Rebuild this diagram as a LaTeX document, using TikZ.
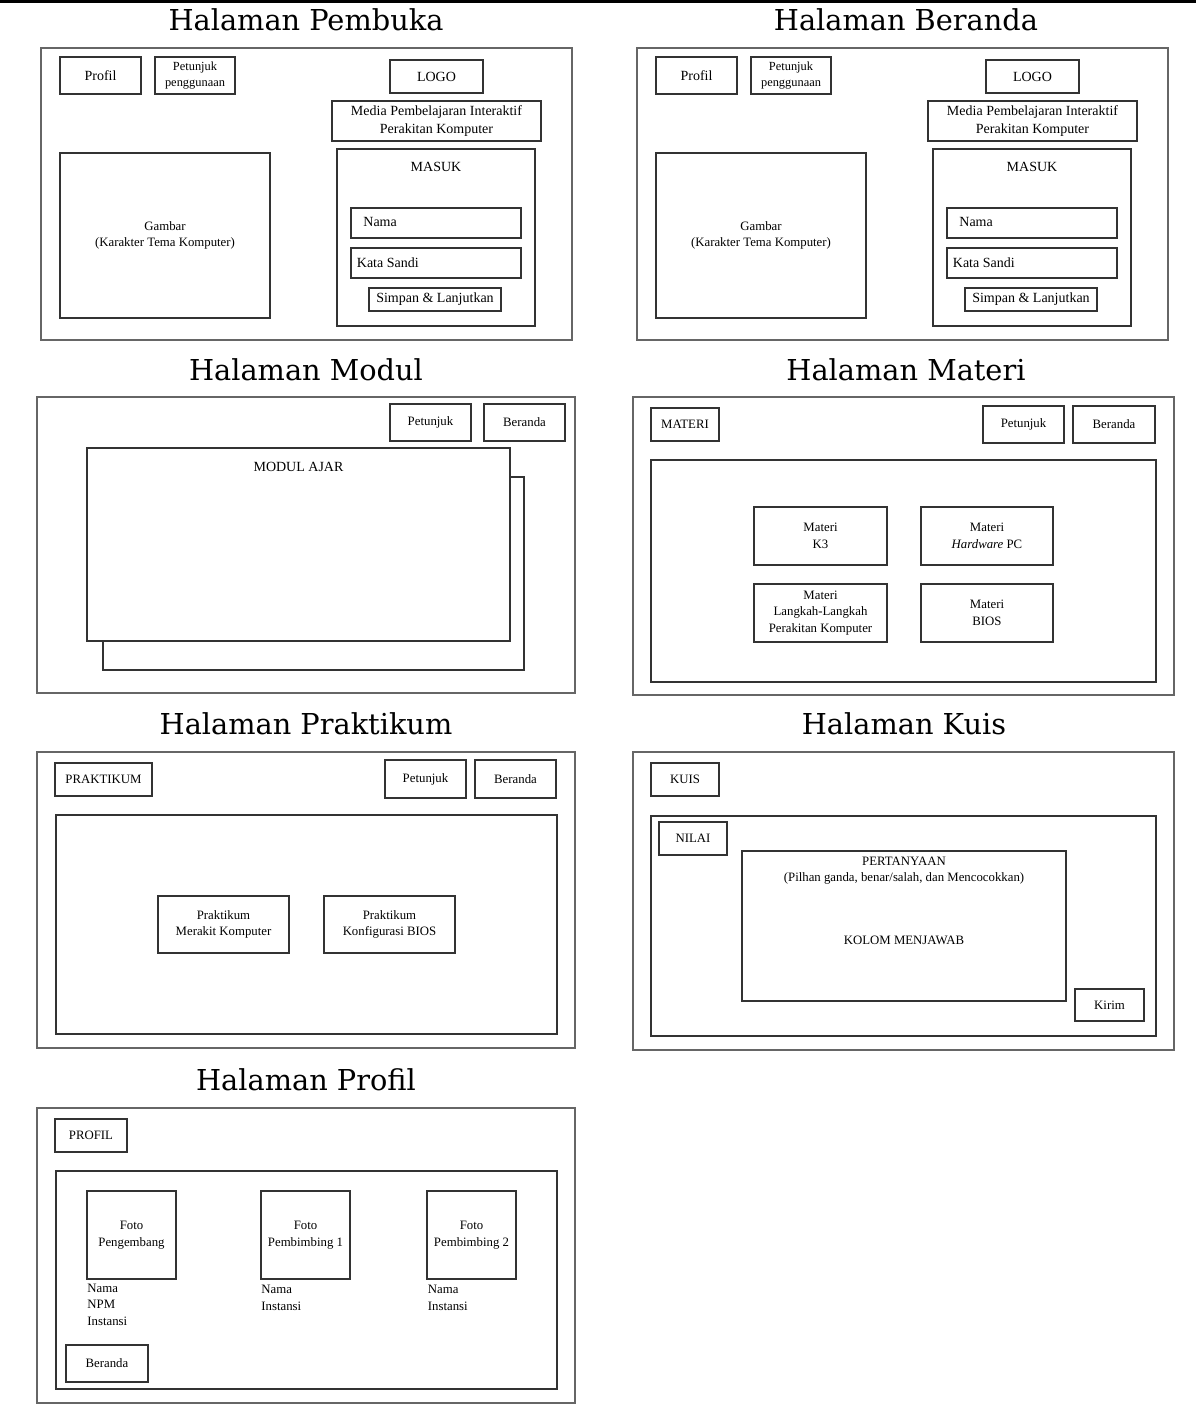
\documentclass[tikz,border=0pt]{standalone}
\usepackage{fontspec}
\setmainfont{Liberation Serif}
\newfontfamily\titlefont{DejaVu Serif}
\newcommand\fA{\fontsize{7}{9.2}\selectfont}
\newcommand\fB{\fontsize{6.4}{8.3}\selectfont}
\newcommand\fC{\fontsize{6.2}{7.8}\selectfont}
\newcommand\fT{\titlefont\fontsize{14.4}{16}\selectfont}
\tikzset{
  box/.style={draw=black!80, line width=0.9pt, inner sep=0pt, outer sep=0pt, align=center, font=\fA},
  frame/.style={draw=black!60, line width=0.7pt},
  ttl/.style={font=\fT, anchor=base, inner sep=0pt},
  lbl/.style={font=\fA, inner sep=0pt},
  lblB/.style={font=\fB, inner sep=0pt},
}
% \bx[options]{name}{x1}{y1}{x2}{y2}{text}
\newcommand\bx[7][]{\node[box,minimum width={((#5)-(#3))*0.5pt},minimum height={((#6)-(#4))*0.5pt},#1] (#2) at ({((#3)+(#5))/2},{((#4)+(#6))/2}) {#7};}
\newcommand\intro[1]{%
  \bx[frame]{#1outer}{41}{48}{572}{340}{}
  \bx{#1profil}{60}{57}{141}{94}{Profil}
  \bx[font=\fC]{#1petunjuk}{155}{57}{235}{94}{Petunjuk\\penggunaan}
  \bx{#1logo}{390}{60}{483}{93}{LOGO}
  \bx{#1media}{332}{101}{541}{141}{Media Pembelajaran Interaktif\\Perakitan Komputer}
  \bx[font=\fB]{#1gambar}{60}{153}{270}{318}{Gambar\\(Karakter Tema Komputer)}
  \bx{#1masuk}{337}{149}{535}{326}{}
  \node[lbl] (#1masukT) at (436,167) {MASUK};
  \bx{#1nama}{351}{208}{521}{238}{}
  \node[lbl,anchor=west] (#1namaT) at (363,222) {Nama};
  \bx{#1sandi}{351}{248}{521}{278}{}
  \node[lbl,anchor=west] (#1sandiT) at (356.5,262.5) {Kata Sandi};
  \bx{#1simpan}{369}{288}{501}{311}{Simpan \& Lanjutkan}
}
\begin{document}
\begin{tikzpicture}[x=0.5pt,y=-0.5pt]
\fill[white] (0,0) rectangle (1196,1408);
\useasboundingbox (0,0) rectangle (1196,1408);
\fill[black] (0,0) rectangle (1196,3);

% titles
\node[ttl] (t1) at (306,30) {Halaman Pembuka};
\node[ttl] (t2) at (906,30) {Halaman Beranda};
\node[ttl] (t3) at (306,380) {Halaman Modul};
\node[ttl] (t4) at (906,380) {Halaman Materi};
\node[ttl] (t5) at (306,734) {Halaman Praktikum};
\node[ttl] (t6) at (904,734) {Halaman Kuis};
\node[ttl] (t7) at (306,1090.5) {Halaman Profil};

% Pembuka and Beranda
\intro{a}
\begin{scope}[xshift=298pt]
\intro{b}
\end{scope}

% Modul
\bx[frame]{mouter}{37}{397}{575}{693}{}
\bx[font=\fB]{mpetunjuk}{390}{404}{471}{441}{Petunjuk}
\bx[font=\fB]{mberanda}{484}{404}{565}{441}{Beranda}
\bx{mback}{103}{477}{524}{670}{}
\bx[fill=white]{mfront}{87}{448}{510}{641}{}
\node[lbl] (mfrontT) at (298.5,467) {MODUL AJAR};

% Materi
\bx[frame]{tout}{633}{397}{1174}{695}{}
\bx[font=\fB]{tmateri}{651}{408}{719}{441}{MATERI}
\bx[font=\fB]{tpetunjuk}{983}{406}{1064}{443}{Petunjuk}
\bx[font=\fB]{tberanda}{1073}{406}{1155}{443}{Beranda}
\bx{tinner}{651}{460}{1156}{682}{}
\bx[font=\fB]{tk3}{754}{507}{887}{565}{Materi\\K3}
\bx[font=\fB]{thw}{921}{507}{1053}{565}{Materi\\\textit{Hardware} PC}
\bx[font=\fB]{tlk}{754}{584}{887}{642}{Materi\\Langkah-Langkah\\Perakitan Komputer}
\bx[font=\fB]{tbios}{921}{584}{1053}{642}{Materi\\BIOS}

% Praktikum
\bx[frame]{pout}{37}{752}{575}{1048}{}
\bx[font=\fB]{plabel}{55}{763}{152}{796}{PRAKTIKUM}
\bx[font=\fB]{ppetunjuk}{385}{760}{466}{798}{Petunjuk}
\bx[font=\fB]{pberanda}{475}{760}{556}{798}{Beranda}
\bx{pinner}{56}{815}{557}{1034}{}
\bx[font=\fB]{pmerakit}{158}{896}{289}{953}{Praktikum\\Merakit Komputer}
\bx[font=\fB]{pbios}{324}{896}{455}{953}{Praktikum\\Konfigurasi BIOS}

% Kuis
\bx[frame]{kout}{633}{752}{1174}{1050}{}
\bx[font=\fB]{klabel}{651}{763}{719}{796}{KUIS}
\bx{kinner}{651}{816}{1156}{1036}{}
\bx[font=\fB]{knilai}{659}{822}{727}{855}{NILAI}
\bx{kq}{742}{851}{1066}{1001}{}
\node[lblB] (kq1) at (904,861) {PERTANYAAN};
\node[lblB] (kq2) at (904,878.5) {(Pilhan ganda, benar/salah, dan Mencocokkan)};
\node[lblB] (kq3) at (904,940) {KOLOM MENJAWAB};
\bx[font=\fB]{kkirim}{1075}{989}{1144}{1021}{Kirim}

% Profil
\bx[frame]{rout}{37}{1108}{575}{1403}{}
\bx[font=\fB]{rlabel}{55}{1119}{127}{1152}{PROFIL}
\bx{rinner}{56}{1171}{557}{1389}{}
\bx[font=\fB]{rf1}{87}{1191}{176}{1279}{Foto\\Pengembang}
\bx[font=\fB]{rf2}{261}{1191}{350}{1279}{Foto\\Pembimbing 1}
\bx[font=\fB]{rf3}{427}{1191}{516}{1279}{Foto\\Pembimbing 2}
\node[lblB,anchor=north west,align=left] (rt1) at (87,1283.5) {Nama\\NPM\\Instansi};
\node[lblB,anchor=north west,align=left] (rt2) at (261,1285) {Nama\\Instansi};
\node[lblB,anchor=north west,align=left] (rt3) at (427.5,1285) {Nama\\Instansi};
\bx[font=\fB]{rberanda}{66}{1345}{148}{1382}{Beranda}
\end{tikzpicture}
\end{document}
